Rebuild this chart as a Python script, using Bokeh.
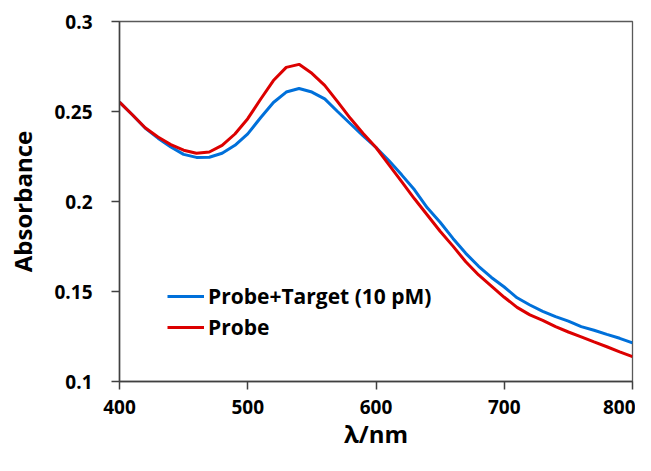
from bokeh.plotting import figure
from bokeh.models import FixedTicker, Range1d, Legend, LegendItem
from bokeh.embed import file_html
from bokeh.resources import INLINE

wavelength = [400, 410, 420, 430, 440, 450, 460, 470, 480, 490,
              500, 510, 520, 530, 540, 550, 560, 570, 580, 590,
              600, 610, 620, 630, 640, 650, 660, 670, 680, 690,
              700, 710, 720, 730, 740, 750, 760, 770, 780, 790, 800]

probe_target = [0.2552, 0.2482, 0.2408, 0.2352, 0.2303, 0.2262, 0.2245, 0.2246, 0.2268, 0.2312,
                0.2376, 0.2465, 0.2550, 0.2608, 0.2628, 0.2608, 0.2570, 0.2500, 0.2432, 0.2365,
                0.2300, 0.2228, 0.2148, 0.2065, 0.1965, 0.1885, 0.1795, 0.1712, 0.1640, 0.1578,
                0.1525, 0.1465, 0.1425, 0.1390, 0.1360, 0.1335, 0.1305, 0.1285, 0.1262, 0.1240, 0.1215]

probe = [0.2552, 0.2482, 0.2410, 0.2358, 0.2316, 0.2285, 0.2268, 0.2275, 0.2312, 0.2375,
         0.2460, 0.2568, 0.2672, 0.2745, 0.2762, 0.2712, 0.2645, 0.2555, 0.2462, 0.2378,
         0.2300, 0.2205, 0.2110, 0.2015, 0.1925, 0.1835, 0.1752, 0.1665, 0.1592, 0.1530,
         0.1468, 0.1412, 0.1370, 0.1340, 0.1305, 0.1275, 0.1248, 0.1220, 0.1193, 0.1165, 0.1138]

x_ticks = [400, 500, 600, 700, 800]
y_ticks = [0.1, 0.15, 0.2, 0.25, 0.3]
y_tick_labels = ["0.1", "0.15", "0.2", "0.25", "0.3"]

series_names = ["Probe+Target (10 pM)", "Probe"]
series_colors = ["#0070DA", "#DC0000"]

FONT = "Open Sans"

p = figure(width=635, height=455, output_backend="svg", toolbar_location=None,
           x_range=Range1d(400, 800), y_range=Range1d(0.1, 0.3),
           min_border_left=119, min_border_right=3, min_border_top=21, min_border_bottom=74)

p.xgrid.visible = False
p.ygrid.visible = False
p.outline_line_color = "#595959"
p.outline_line_width = 1.3
p.background_fill_color = "white"
p.border_fill_color = "white"

r1 = p.line(wavelength, probe_target, line_color=series_colors[0], line_width=3)
r2 = p.line(wavelength, probe, line_color=series_colors[1], line_width=3)

for ax in (p.xaxis[0], p.yaxis[0]):
    ax.axis_line_color = "#404040"
    ax.axis_line_width = 1.5
    ax.major_tick_line_color = "#404040"
    ax.major_tick_line_width = 1.5
    ax.major_tick_in = 0
    ax.major_tick_out = 8
    ax.minor_tick_line_color = None
    ax.major_label_text_font = FONT
    ax.major_label_text_font_style = "bold"
    ax.major_label_text_font_size = "19px"
    ax.major_label_text_color = "black"
    ax.axis_label_text_font = FONT
    ax.axis_label_text_font_style = "bold"
    ax.axis_label_text_font_size = "24px"
    ax.axis_label_text_color = "black"

p.xaxis.ticker = FixedTicker(ticks=x_ticks)
p.yaxis.ticker = FixedTicker(ticks=y_ticks)
p.yaxis.major_label_overrides = {t: l for t, l in zip(y_ticks, y_tick_labels)}
p.xaxis.major_label_standoff = 10
p.yaxis.major_label_standoff = 19
p.xaxis.axis_label = "λ/nm"
p.yaxis.axis_label = "Absorbance"
p.xaxis.axis_label_standoff = 0
p.yaxis.axis_label_standoff = 12

legend = Legend(items=[LegendItem(label=series_names[0], renderers=[r1]),
                       LegendItem(label=series_names[1], renderers=[r2])],
                location=(48, 40), orientation="vertical")
legend.border_line_color = None
legend.background_fill_alpha = 0
legend.padding = 0
legend.margin = 0
legend.spacing = 3
legend.glyph_width = 37
legend.glyph_height = 20
legend.label_height = 20
legend.label_standoff = 4
legend.label_text_font = FONT
legend.label_text_font_style = "bold"
legend.label_text_font_size = "21px"
legend.label_text_color = "black"
p.add_layout(legend, "center")

open("out.html", "w").write(file_html(p, INLINE))
